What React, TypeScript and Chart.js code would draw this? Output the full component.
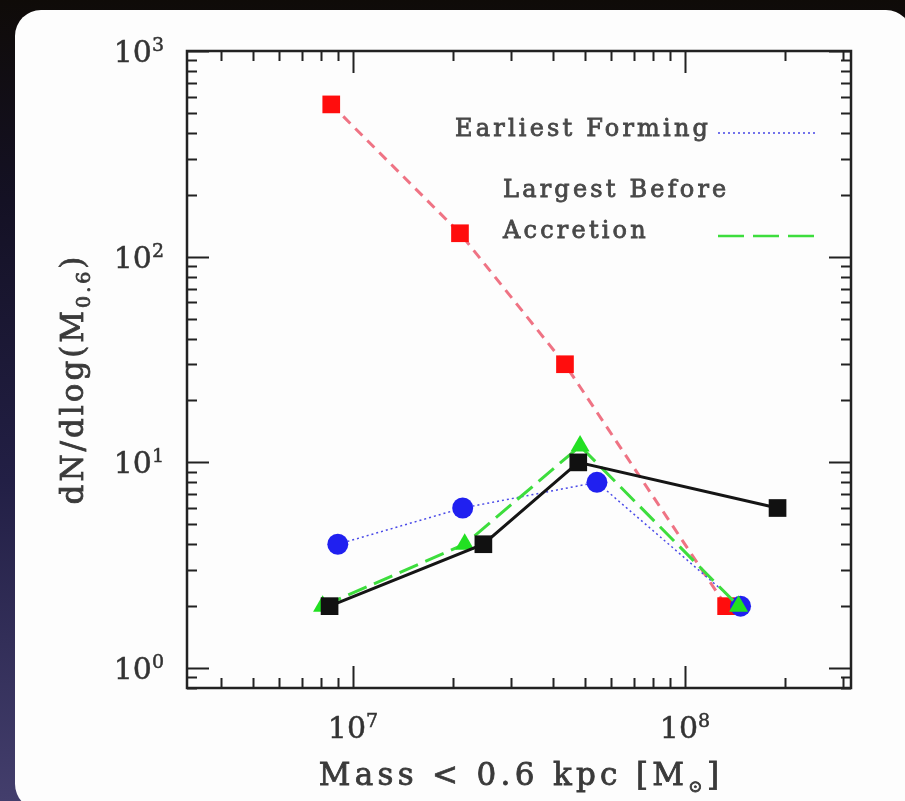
import React, { useEffect, useRef } from 'react';
import { Chart, registerables } from 'chart.js';

Chart.register(...registerables);

// ---- data ----
const redMass = [8.6e6, 2.1e7, 4.35e7, 1.33e8];
const redCount = [550, 130, 30, 2];

const blueMass = [9.0e6, 2.14e7, 5.43e7, 1.47e8];
const blueCount = [4, 6, 8, 2];

const greenMass = [8.1e6, 2.17e7, 4.83e7, 1.45e8];
const greenCount = [2, 4, 12, 2];

const blackMass = [8.5e6, 2.47e7, 4.77e7, 1.9e8];
const blackCount = [2, 4, 10, 6];

const xTickExponents = ['7', '8'];
const yTickExponents = ['0', '1', '2', '3'];

const xTitleParts = ['Mass < 0.6 kpc [M', '\u2299', ']'];
const yTitleParts = ['dN/dlog(M', '0.6', ')'];

const legendEarliest = 'Earliest Forming';
const legendLargest1 = 'Largest Before';
const legendLargest2 = 'Accretion';

const FONT = '"DejaVu Serif", "Liberation Serif", serif';

const pts = (xs: number[], ys: number[]) => xs.map((x, i) => ({ x, y: ys[i] }));

type Part = { text: string; font: string; dy: number };

function partsWidth(ctx: CanvasRenderingContext2D, parts: Part[]) {
  let w = 0;
  parts.forEach((p) => {
    ctx.font = p.font;
    w += ctx.measureText(p.text).width;
  });
  return w;
}

function drawParts(ctx: CanvasRenderingContext2D, parts: Part[], left: number, base: number, weight = 0) {
  let x = left;
  ctx.textAlign = 'left';
  ctx.textBaseline = 'alphabetic';
  ctx.strokeStyle = ctx.fillStyle as string;
  ctx.lineWidth = weight;
  ctx.setLineDash([]);
  parts.forEach((p) => {
    ctx.font = p.font;
    ctx.fillText(p.text, x, base + p.dy);
    if (weight > 0) ctx.strokeText(p.text, x, base + p.dy);
    x += ctx.measureText(p.text).width;
  });
}

const pgPlugin = {
  id: 'pgFrame',
  afterDatasetsDraw(chart: any) {
    const { ctx, chartArea: a, scales } = chart;
    const xs = scales.x;
    const ys = scales.y;
    ctx.save();
    ctx.setLineDash([]);
    ctx.strokeStyle = '#222';
    ctx.lineWidth = 2.5;
    ctx.strokeRect(a.left, a.top, a.right - a.left, a.bottom - a.top);
    ctx.lineWidth = 2;
    const major = 22;
    const minor = 10;
    for (let d = Math.floor(Math.log10(xs.min)); d <= Math.ceil(Math.log10(xs.max)); d++) {
      for (let m = 1; m <= 9; m++) {
        const v = m * Math.pow(10, d);
        if (v < xs.min || v > xs.max) continue;
        const px = Math.round(xs.getPixelForValue(v)) + 0.5;
        const len = m === 1 ? major : minor;
        ctx.beginPath();
        ctx.moveTo(px, a.bottom);
        ctx.lineTo(px, a.bottom - len);
        ctx.moveTo(px, a.top);
        ctx.lineTo(px, a.top + len);
        ctx.stroke();
      }
    }
    for (let d = Math.floor(Math.log10(ys.min)); d <= Math.ceil(Math.log10(ys.max)); d++) {
      for (let m = 1; m <= 9; m++) {
        const v = m * Math.pow(10, d);
        if (v < ys.min * 0.999 || v > ys.max * 1.001) continue;
        const py = Math.round(ys.getPixelForValue(v)) + 0.5;
        const len = m === 1 ? major : minor;
        ctx.beginPath();
        ctx.moveTo(a.left, py);
        ctx.lineTo(a.left + len, py);
        ctx.moveTo(a.right, py);
        ctx.lineTo(a.right - len, py);
        ctx.stroke();
      }
    }
    ctx.restore();
  },
  afterDraw(chart: any) {
    const { ctx, chartArea: a, scales } = chart;
    const xs = scales.x;
    const ys = scales.y;
    ctx.save();
    ctx.setLineDash([]);
    ctx.fillStyle = '#333333';

    const powParts = (e: string): Part[] => [
      { text: '10', font: `30px ${FONT}`, dy: 0 },
      { text: e, font: `19px ${FONT}`, dy: -11 },
    ];

    // x tick labels
    ctx.letterSpacing = '0px';
    xTickExponents.forEach((e) => {
      const px = xs.getPixelForValue(Math.pow(10, Number(e)));
      const parts = powParts(e);
      const w = partsWidth(ctx, parts);
      drawParts(ctx, parts, px - w / 2, a.bottom + 50, 0.5);
    });
    // y tick labels
    yTickExponents.forEach((e) => {
      const py = ys.getPixelForValue(Math.pow(10, Number(e)));
      const parts = powParts(e);
      const w = partsWidth(ctx, parts);
      drawParts(ctx, parts, 164 - w, py + 11, 0.5);
    });

    ctx.fillStyle = '#3a3a3a';
    // x title
    {
      ctx.letterSpacing = '4.3px';
      const parts: Part[] = [
        { text: xTitleParts[0], font: `31px ${FONT}`, dy: 0 },
        { text: xTitleParts[1], font: `17px ${FONT}`, dy: 7 },
        { text: xTitleParts[2], font: `31px ${FONT}`, dy: 0 },
      ];
      const w = partsWidth(ctx, parts);
      drawParts(ctx, parts, (a.left + a.right) / 2 - w / 2 + 2, a.bottom + 97, 0.8);
    }

    // y title (rotated)
    {
      ctx.letterSpacing = '3px';
      ctx.save();
      ctx.translate(72, 379);
      ctx.rotate(-Math.PI / 2);
      const parts: Part[] = [
        { text: yTitleParts[0], font: `31px ${FONT}`, dy: 0 },
        { text: yTitleParts[1], font: `19px ${FONT}`, dy: 7 },
        { text: yTitleParts[2], font: `31px ${FONT}`, dy: 0 },
      ];
      const w = partsWidth(ctx, parts);
      drawParts(ctx, parts, -w / 2, 11, 0.8);
      ctx.restore();
    }

    // legend
    ctx.fillStyle = '#484848';
    ctx.letterSpacing = '3.2px';
    const lf = `24px ${FONT}`;
    drawParts(ctx, [{ text: legendEarliest, font: lf, dy: 0 }], 455, 136, 0.8);
    drawParts(ctx, [{ text: legendLargest1, font: lf, dy: 0 }], 503, 197, 0.8);
    drawParts(ctx, [{ text: legendLargest2, font: lf, dy: 0 }], 503, 238, 0.8);
    ctx.letterSpacing = '0px';

    ctx.strokeStyle = '#4646e6';
    ctx.lineWidth = 1.6;
    ctx.setLineDash([2, 3]);
    ctx.beginPath();
    ctx.moveTo(718, 133);
    ctx.lineTo(817, 133);
    ctx.stroke();

    ctx.strokeStyle = '#3ddd3d';
    ctx.lineWidth = 2.6;
    ctx.setLineDash([26, 9]);
    ctx.beginPath();
    ctx.moveTo(718, 236);
    ctx.lineTo(818, 236);
    ctx.stroke();
    ctx.restore();
  },
};

export default function App() {
  const canvasRef = useRef<HTMLCanvasElement | null>(null);

  useEffect(() => {
    const canvas = canvasRef.current;
    if (!canvas) return;
    const chart = new Chart(canvas, {
      type: 'line',
      data: {
        datasets: [
          {
            label: 'All',
            data: pts(blackMass, blackCount),
            borderColor: '#151515',
            backgroundColor: '#111111',
            borderWidth: 3,
            pointStyle: 'rect',
            pointRadius: 12.5,
            pointBorderWidth: 0,
            pointBackgroundColor: '#111111',
          },
          {
            label: 'Largest Before Accretion',
            data: pts(greenMass, greenCount),
            borderColor: '#3ddd3d',
            backgroundColor: '#22e022',
            borderWidth: 3,
            borderDash: [20, 8],
            pointStyle: 'triangle',
            pointRadius: 11,
            pointBorderWidth: 0,
            pointBackgroundColor: '#22e022',
          },
          {
            label: 'Earliest Forming',
            data: pts(blueMass, blueCount),
            borderColor: '#4a4ae8',
            backgroundColor: '#2020f0',
            borderWidth: 1.5,
            borderDash: [2, 3],
            pointStyle: 'circle',
            pointRadius: 10.5,
            pointBorderWidth: 0,
            pointBackgroundColor: '#2020f0',
          },
          {
            label: 'Subhalos',
            data: pts(redMass, redCount),
            borderColor: 'rgba(236, 90, 110, 0.85)',
            backgroundColor: '#ff0d0d',
            borderWidth: 3,
            borderDash: [10, 7],
            pointStyle: 'rect',
            pointRadius: 12.5,
            pointBorderWidth: 0,
            pointBackgroundColor: '#ff0d0d',
          },
        ],
      },
      options: {
        animation: false,
        responsive: false,
        maintainAspectRatio: false,
        devicePixelRatio: 1,
        layout: { padding: { left: 187, right: 54, top: 51, bottom: 113 } },
        plugins: {
          legend: { display: false },
          title: { display: false },
          tooltip: { enabled: false },
        },
        elements: { line: { tension: 0 } },
        scales: {
          x: {
            type: 'logarithmic',
            min: Math.pow(10, 6.5),
            max: Math.pow(10, 8.5),
            display: false,
          },
          y: {
            type: 'logarithmic',
            min: 0.8,
            max: 1000,
            display: false,
          },
        },
      },
      plugins: [pgPlugin],
    });
    return () => chart.destroy();
  }, []);

  return (
    <div
      style={{
        position: 'fixed',
        left: 0,
        top: 0,
        width: 905,
        height: 801,
        overflow: 'hidden',
        background: 'linear-gradient(180deg, #0f0b08 0%, #141124 25%, #221f45 60%, #433e6c 100%)',
      }}
    >
      <div
        style={{
          position: 'absolute',
          left: 15,
          top: 10,
          width: 897,
          height: 800,
          background: '#fdfdfd',
          borderRadius: 26,
        }}
      />
      <canvas
        ref={canvasRef}
        width={905}
        height={801}
        style={{ position: 'absolute', left: 0, top: 0, width: 905, height: 801 }}
      />
    </div>
  );
}
